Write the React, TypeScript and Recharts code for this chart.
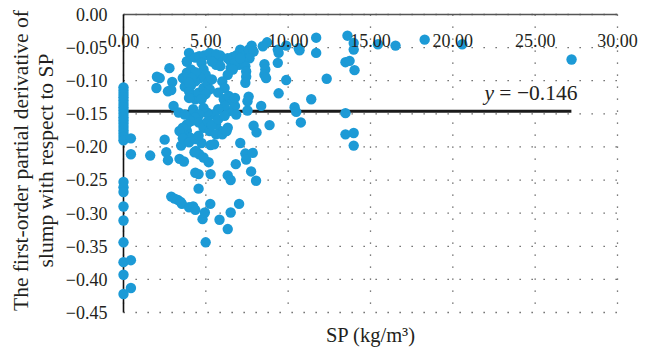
import {
  ScatterChart,
  Scatter,
  XAxis,
  YAxis,
  CartesianGrid,
  ReferenceLine,
} from "recharts";

// [SP, derivative] pairs
const nearZero: [number, number][] = [
  [0, -0.11], [0, -0.115], [0, -0.12], [0, -0.125], [0, -0.13], [0, -0.135],
  [0, -0.14], [0, -0.145], [0, -0.15], [0, -0.155], [0, -0.16], [0, -0.165],
  [0, -0.17], [0, -0.175], [0, -0.18], [0, -0.185], [0, -0.19],
  [0, -0.253], [0, -0.261], [0, -0.268], [0, -0.29], [0, -0.311], [0, -0.344],
  [0, -0.374], [0, -0.393], [0, -0.422],
  [0.45, -0.187], [0.45, -0.211], [0.45, -0.371], [0.45, -0.413],
];

const leftSpread: [number, number][] = [
  [1.62, -0.213], [2.03, -0.094], [2.2, -0.096], [2.0, -0.111], [2.5, -0.189],
  [2.6, -0.208], [2.7, -0.22], [2.79, -0.081], [2.7, -0.116], [2.96, -0.102],
  [2.9, -0.114], [3.04, -0.138], [2.9, -0.275], [3.1, -0.278], [3.3, -0.28],
  [3.47, -0.283], [3.55, -0.286], [3.35, -0.148], [3.5, -0.198], [3.4, -0.218],
  [3.67, -0.222], [3.6, -0.096], [3.72, -0.109], [3.85, -0.071], [3.98, -0.058],
  [3.85, -0.176], [3.72, -0.183], [4.06, -0.186], [3.98, -0.291], [4.23, -0.29],
  [4.36, -0.295], [4.15, -0.153], [4.23, -0.143], [4.36, -0.239], [4.56, -0.241],
  [4.4, -0.206], [4.6, -0.211], [4.56, -0.263], [4.8, -0.309], [4.94, -0.299],
  [4.99, -0.344], [5.27, -0.286], [5.29, -0.241], [5.17, -0.223], [5.29, -0.197],
  [4.74, -0.194], [5.83, -0.31], [6.33, -0.324], [6.51, -0.299], [6.33, -0.243],
  [6.51, -0.25], [6.82, -0.226], [7.02, -0.286], [7.09, -0.194], [7.4, -0.21],
  [7.45, -0.219], [7.85, -0.209], [7.75, -0.237], [8.05, -0.251],
];

const mainCluster: [number, number][] = [
  [6.33, -0.171], [5.88, -0.176], [5.62, -0.166], [7.53, -0.145], [7.6, -0.124],
  [7.9, -0.168], [8.08, -0.178], [8.36, -0.138], [8.87, -0.167], [9.42, -0.119],
  [9.88, -0.099], [9.37, -0.073], [9.42, -0.058], [9.37, -0.053], [9.88, -0.047],
  [8.72, -0.042], [8.46, -0.048], [8.56, -0.075], [8.61, -0.083], [8.56, -0.091],
  [8.66, -0.096], [3.85, -0.071], [4.36, -0.065], [4.6, -0.063], [4.9, -0.062],
  [5.24, -0.058], [5.37, -0.066], [5.75, -0.071], [5.62, -0.076], [5.88, -0.062],
  [6.33, -0.066], [6.51, -0.071], [6.64, -0.064], [6.89, -0.061], [7.09, -0.053],
  [7.27, -0.056], [7.4, -0.061], [7.6, -0.053], [7.78, -0.047], [7.9, -0.056],
  [7.65, -0.066], [7.27, -0.071], [7.02, -0.076], [6.77, -0.073], [6.51, -0.081],
  [6.33, -0.091], [6.64, -0.083], [7.4, -0.078], [7.45, -0.086], [7.45, -0.094],
  [7.4, -0.103], [7.09, -0.066], [4.74, -0.073], [4.86, -0.083], [4.99, -0.091],
  [4.66, -0.096], [4.36, -0.101], [4.1, -0.107], [3.98, -0.116], [4.15, -0.123],
  [4.36, -0.128], [4.56, -0.118], [4.86, -0.111], [5.12, -0.103], [5.37, -0.098],
  [5.24, -0.113], [4.99, -0.12], [4.74, -0.128], [3.98, -0.126], [3.85, -0.088],
  [4.1, -0.083], [4.36, -0.087], [4.15, -0.096], [3.98, -0.103], [6.0, -0.101],
  [6.14, -0.111], [5.75, -0.118], [6.09, -0.128], [6.39, -0.123], [6.64, -0.131],
  [6.77, -0.138], [6.39, -0.146], [6.14, -0.138], [5.75, -0.143], [5.5, -0.151],
  [5.07, -0.148], [4.86, -0.141], [4.6, -0.151], [4.36, -0.156], [4.1, -0.161],
  [3.85, -0.166], [3.6, -0.171], [3.4, -0.176], [3.72, -0.151], [4.56, -0.163],
  [4.86, -0.171], [5.24, -0.176], [5.62, -0.181], [6.0, -0.181], [6.26, -0.176],
  [5.12, -0.161], [5.37, -0.167], [5.75, -0.158], [6.14, -0.153], [6.77, -0.126],
  [6.84, -0.151], [3.6, -0.187], [3.98, -0.193], [4.36, -0.188], [4.56, -0.183],
  [4.31, -0.208], [4.86, -0.216], [5.5, -0.196], [5.62, -0.06], [5.88, -0.078],
  [5.37, -0.071], [7.53, -0.131],
];

const rightSpread: [number, number][] = [
  [10.39, -0.14], [10.49, -0.147], [10.77, -0.163], [10.64, -0.051], [10.69, -0.054],
  [11.7, -0.035], [11.7, -0.058], [11.4, -0.128], [12.34, -0.097], [13.6, -0.032],
  [13.48, -0.072], [13.73, -0.07], [13.98, -0.043], [13.98, -0.053], [14.03, -0.084],
  [13.48, -0.149], [13.48, -0.181], [13.98, -0.179], [13.98, -0.198], [15.45, -0.045],
  [16.52, -0.047], [18.29, -0.038], [20.57, -0.045], [27.21, -0.068],
];

const xTicks = [0, 5, 10, 15, 20, 25, 30];
const yTicks = [0, -0.05, -0.1, -0.15, -0.2, -0.25, -0.3, -0.35, -0.4, -0.45];
const meanValue = -0.146;
const lineEnd = 27.2;

const points = [...nearZero, ...leftSpread, ...mainCluster, ...rightSpread].map(
  ([sp, d]) => ({ sp, d })
);

const FONT = "'Liberation Serif', 'DejaVu Serif', serif";
const TEXT = "#231f20";
const BLUE = "#1c9ad6";

const fmtY = (v: number) =>
  v === 0 ? "0.00" : "\u2212" + Math.abs(v).toFixed(2);

const Dot = (p: any) => <circle cx={p.cx} cy={p.cy} r={5.2} fill={BLUE} />;

const YTitle = ({ viewBox }: any) => {
  const cy = viewBox.y + viewBox.height / 2 - 3;
  const x1 = viewBox.x + 20;
  const x2 = viewBox.x + 45;
  return (
    <g fontFamily={FONT} fontSize={21.5} fill={TEXT} textAnchor="middle">
      <text x={x1} y={cy} transform={`rotate(-90 ${x1} ${cy})`} dy="0.35em">
        The first-order partial derivative of
      </text>
      <text x={x2} y={cy} transform={`rotate(-90 ${x2} ${cy})`} dy="0.35em">
        slump with respect to SP
      </text>
    </g>
  );
};

const MeanLabel = ({ viewBox }: any) => {
  const xEnd = viewBox.x + viewBox.width + 6;
  const y = viewBox.y - 11;
  return (
    <text x={xEnd} y={y} textAnchor="end" fontFamily={FONT} fontSize={21.5} fill={TEXT}>
      <tspan fontStyle="italic">y</tspan>
      <tspan> = {"\u2212"}0.146</tspan>
    </text>
  );
};

export default function App() {
  return (
    <div style={{ width: 650, height: 349, background: "#fff" }}>
      <style>{"body{margin:0}"}</style>
      <ScatterChart
        width={650}
        height={349}
        margin={{ top: 14.5, right: 32.5, bottom: 0, left: 0 }}
      >
        <CartesianGrid
          stroke="#555"
          strokeWidth={1.3}
          strokeDasharray="1.3 10.7"
        />
        <XAxis
          xAxisId={0}
          type="number"
          dataKey="sp"
          orientation="top"
          mirror
          domain={[0, 30]}
          ticks={xTicks}
          tickFormatter={(v: number) => v.toFixed(2)}
          tick={{ fontSize: 18, fill: TEXT, fontFamily: FONT }}
          tickLine={false}
          tickMargin={14}
          axisLine={{ stroke: "#555", strokeWidth: 1.6 }}
        />
        <XAxis
          xAxisId="title"
          type="number"
          orientation="bottom"
          domain={[0, 30]}
          height={36.5}
          tick={false}
          tickLine={false}
          axisLine={false}
          label={{
            value: "SP (kg/m\u00b3)",
            position: "insideBottom",
            offset: 7,
            fontSize: 20.5,
            fill: TEXT,
            fontFamily: FONT,
          }}
        />
        <YAxis
          type="number"
          dataKey="d"
          domain={[-0.45, 0]}
          ticks={yTicks}
          tickFormatter={fmtY}
          width={123.5}
          tick={{ fontSize: 18, fill: TEXT, fontFamily: FONT }}
          tickLine={false}
          tickMargin={10}
          axisLine={{ stroke: "#111", strokeWidth: 1.6 }}
          label={<YTitle />}
        />
        <Scatter
          data={points}
          shape={Dot}
          isAnimationActive={false}
        />
        <ReferenceLine
          segment={[
            { x: 0, y: meanValue },
            { x: lineEnd, y: meanValue },
          ]}
          stroke="#1a1a1a"
          strokeWidth={3}
          label={<MeanLabel />}
        />
      </ScatterChart>
    </div>
  );
}
